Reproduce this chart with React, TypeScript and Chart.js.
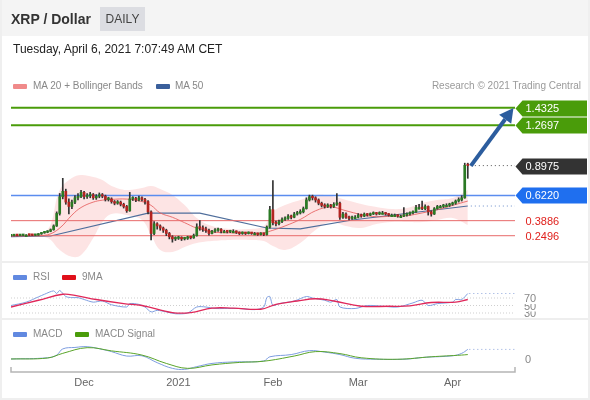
import React, { useEffect, useRef } from "react";
import { Chart, registerables } from "chart.js";
Chart.register(...registerables);

const FONT = '"Liberation Sans", Arial, Helvetica, sans-serif';

// ---- candles: day index 0 = 7 Nov 2020 ... 150 = 6 Apr 2021 ----
const opens = [
  0.249, 0.250, 0.252, 0.251, 0.252, 0.256, 0.256, 0.255, 0.253, 0.255,
  0.266, 0.276, 0.281, 0.290, 0.305, 0.340, 0.455, 0.610, 0.660, 0.560,
  0.520, 0.560, 0.600, 0.610, 0.650, 0.610, 0.620, 0.630, 0.600, 0.615,
  0.625, 0.615, 0.585, 0.590, 0.565, 0.550, 0.560, 0.540, 0.520, 0.480,
  0.590, 0.595, 0.580, 0.600, 0.585, 0.565, 0.470, 0.270, 0.360, 0.340,
  0.320, 0.300, 0.270, 0.240, 0.220, 0.225, 0.235, 0.220, 0.225, 0.235,
  0.230, 0.250, 0.330, 0.320, 0.310, 0.300, 0.270, 0.290, 0.300, 0.310,
  0.290, 0.290, 0.285, 0.290, 0.290, 0.280, 0.270, 0.275, 0.270, 0.275,
  0.270, 0.270, 0.260, 0.270, 0.260, 0.330, 0.490, 0.370, 0.360, 0.380,
  0.400, 0.410, 0.430, 0.420, 0.450, 0.460, 0.470, 0.500, 0.580, 0.610,
  0.600, 0.580, 0.550, 0.530, 0.520, 0.530, 0.520, 0.540, 0.550, 0.420,
  0.450, 0.420, 0.410, 0.420, 0.420, 0.440, 0.430, 0.450, 0.440, 0.450,
  0.460, 0.450, 0.460, 0.460, 0.450, 0.440, 0.440, 0.440, 0.430, 0.430,
  0.440, 0.450, 0.460, 0.470, 0.510, 0.510, 0.500, 0.520, 0.470, 0.450,
  0.500, 0.520, 0.520, 0.530, 0.530, 0.540, 0.550, 0.570, 0.580, 0.600,
  0.900,
];
const highs = [
  0.253, 0.255, 0.254, 0.255, 0.259, 0.260, 0.259, 0.258, 0.258, 0.270,
  0.280, 0.287, 0.296, 0.312, 0.350, 0.470, 0.640, 0.780, 0.680, 0.590,
  0.580, 0.620, 0.640, 0.670, 0.660, 0.640, 0.650, 0.640, 0.630, 0.645,
  0.640, 0.625, 0.605, 0.600, 0.575, 0.575, 0.570, 0.550, 0.530, 0.650,
  0.610, 0.605, 0.615, 0.610, 0.595, 0.575, 0.480, 0.380, 0.370, 0.350,
  0.330, 0.310, 0.280, 0.250, 0.240, 0.245, 0.240, 0.235, 0.245, 0.245,
  0.265, 0.360, 0.390, 0.340, 0.330, 0.310, 0.300, 0.315, 0.320, 0.315,
  0.300, 0.295, 0.300, 0.305, 0.295, 0.285, 0.285, 0.280, 0.285, 0.280,
  0.280, 0.275, 0.278, 0.275, 0.340, 0.520, 0.760, 0.385, 0.395, 0.415,
  0.425, 0.445, 0.440, 0.465, 0.475, 0.490, 0.515, 0.600, 0.625, 0.625,
  0.610, 0.590, 0.560, 0.545, 0.545, 0.540, 0.555, 0.640, 0.560, 0.465,
  0.460, 0.430, 0.430, 0.435, 0.455, 0.450, 0.460, 0.455, 0.460, 0.470,
  0.465, 0.470, 0.475, 0.465, 0.455, 0.450, 0.450, 0.445, 0.440, 0.510,
  0.460, 0.470, 0.480, 0.530, 0.540, 0.570, 0.535, 0.525, 0.480, 0.510,
  0.530, 0.530, 0.540, 0.545, 0.550, 0.560, 0.580, 0.600, 0.620, 0.920,
  0.920,
];
const lows = [
  0.246, 0.248, 0.248, 0.249, 0.250, 0.253, 0.252, 0.250, 0.251, 0.253,
  0.262, 0.272, 0.277, 0.286, 0.300, 0.335, 0.440, 0.590, 0.540, 0.450,
  0.500, 0.545, 0.580, 0.600, 0.590, 0.595, 0.600, 0.585, 0.585, 0.600,
  0.600, 0.570, 0.570, 0.550, 0.535, 0.540, 0.525, 0.505, 0.465, 0.475,
  0.575, 0.565, 0.570, 0.570, 0.540, 0.450, 0.210, 0.260, 0.310, 0.300,
  0.280, 0.250, 0.220, 0.190, 0.205, 0.215, 0.205, 0.210, 0.215, 0.220,
  0.225, 0.245, 0.300, 0.290, 0.280, 0.255, 0.265, 0.280, 0.290, 0.275,
  0.280, 0.275, 0.278, 0.280, 0.270, 0.260, 0.262, 0.260, 0.265, 0.262,
  0.260, 0.252, 0.255, 0.250, 0.255, 0.320, 0.350, 0.340, 0.350, 0.370,
  0.390, 0.400, 0.405, 0.415, 0.440, 0.450, 0.460, 0.495, 0.570, 0.580,
  0.560, 0.535, 0.515, 0.505, 0.510, 0.505, 0.510, 0.530, 0.400, 0.410,
  0.410, 0.395, 0.400, 0.410, 0.415, 0.420, 0.425, 0.430, 0.435, 0.445,
  0.440, 0.445, 0.450, 0.440, 0.430, 0.430, 0.430, 0.420, 0.420, 0.425,
  0.430, 0.440, 0.450, 0.465, 0.495, 0.490, 0.490, 0.440, 0.430, 0.445,
  0.495, 0.510, 0.510, 0.520, 0.520, 0.530, 0.540, 0.560, 0.570, 0.595,
  0.780,
];
const closes = [
  0.250, 0.252, 0.251, 0.252, 0.256, 0.256, 0.255, 0.253, 0.255, 0.266,
  0.276, 0.281, 0.290, 0.305, 0.340, 0.455, 0.610, 0.660, 0.560, 0.520,
  0.560, 0.600, 0.610, 0.650, 0.610, 0.620, 0.630, 0.600, 0.615, 0.625,
  0.615, 0.585, 0.590, 0.565, 0.550, 0.560, 0.540, 0.520, 0.480, 0.590,
  0.595, 0.580, 0.600, 0.585, 0.565, 0.470, 0.270, 0.360, 0.340, 0.320,
  0.300, 0.270, 0.240, 0.220, 0.225, 0.235, 0.220, 0.225, 0.235, 0.230,
  0.250, 0.330, 0.320, 0.310, 0.300, 0.270, 0.290, 0.300, 0.310, 0.290,
  0.290, 0.285, 0.290, 0.290, 0.280, 0.270, 0.275, 0.270, 0.275, 0.270,
  0.270, 0.260, 0.270, 0.260, 0.330, 0.490, 0.370, 0.360, 0.380, 0.400,
  0.410, 0.430, 0.420, 0.450, 0.460, 0.470, 0.500, 0.580, 0.610, 0.600,
  0.580, 0.550, 0.530, 0.520, 0.530, 0.520, 0.540, 0.550, 0.420, 0.450,
  0.420, 0.410, 0.420, 0.420, 0.440, 0.430, 0.450, 0.440, 0.450, 0.460,
  0.450, 0.460, 0.460, 0.450, 0.440, 0.440, 0.440, 0.430, 0.430, 0.440,
  0.450, 0.460, 0.470, 0.510, 0.510, 0.500, 0.520, 0.470, 0.450, 0.500,
  0.520, 0.520, 0.530, 0.530, 0.540, 0.550, 0.570, 0.580, 0.600, 0.900,
  0.8975,
];

// ---- MA 20 + Bollinger bands ----
const bandDays = [0, 6, 12, 16, 20, 23, 27, 30, 33, 38, 43, 46, 49, 53, 57, 61, 66, 72, 78, 83, 86, 90, 95, 100, 105, 110, 115, 120, 125, 130, 135, 140, 145, 150];
const ma20 = [0.247, 0.25, 0.258, 0.32, 0.44, 0.51, 0.56, 0.578, 0.585, 0.588, 0.565, 0.53, 0.46, 0.42, 0.37, 0.32, 0.285, 0.276, 0.274, 0.278, 0.3, 0.34, 0.4, 0.48, 0.515, 0.48, 0.445, 0.425, 0.43, 0.435, 0.46, 0.49, 0.53, 0.57];
const bandUpper = [0.262, 0.262, 0.302, 0.672, 0.783, 0.811, 0.792, 0.765, 0.71, 0.672, 0.69, 0.71, 0.681, 0.626, 0.533, 0.413, 0.339, 0.311, 0.311, 0.339, 0.469, 0.533, 0.58, 0.626, 0.617, 0.58, 0.543, 0.515, 0.496, 0.506, 0.552, 0.58, 0.598, 0.672];
const bandLower = [0.238, 0.24, 0.228, 0.118, 0.054, 0.071, 0.228, 0.376, 0.45, 0.44, 0.395, 0.256, 0.118, 0.1, 0.145, 0.182, 0.2, 0.21, 0.21, 0.2, 0.154, 0.118, 0.182, 0.302, 0.376, 0.339, 0.321, 0.358, 0.376, 0.376, 0.376, 0.395, 0.413, 0.349];

// ---- MA 50 ----
const ma50Days = [0, 13, 45, 62, 84, 95, 112, 150];
const ma50 = [0.242, 0.247, 0.459, 0.459, 0.321, 0.312, 0.395, 0.524];

// ---- levels ----
const levelValues = [1.4325, 1.2697, 0.8975, 0.622, 0.3886, 0.2496];
const levelKinds = ["res", "res", "last", "piv", "sup", "sup"];
const arrowFrom = [151, 0.895];
const arrowTo = [165, 1.43];

// ---- RSI ----
const rsiDays = [0, 5, 9, 11, 14, 15, 16, 18, 20, 22, 24, 27, 30, 33, 38, 39, 42, 44, 46, 48, 51, 54, 58, 61, 64, 67, 70, 75, 80, 83, 84, 85, 86, 88, 93, 97, 99, 103, 105, 107, 108, 113, 117, 122, 127, 132, 135, 137, 140, 145, 146, 148, 150];
const rsi = [50, 59, 73, 80, 89, 82, 90, 74, 71, 71, 66, 59, 62, 52, 46, 55, 53, 46, 33, 37, 33, 28, 30, 46, 46, 42, 42, 42, 39, 46, 71, 74, 50, 55, 62, 74, 70, 64, 59, 66, 46, 42, 50, 48, 46, 57, 64, 50, 55, 59, 66, 66, 82];
const rsiMaDays = [0, 9, 17, 21, 28, 37, 43, 53, 59, 66, 73, 82, 87, 94, 100, 106, 115, 124, 131, 138, 146, 150];
const rsiMa = [46, 64, 80, 77, 66, 55, 50, 31, 31, 43, 43, 40, 53, 62, 68, 62, 48, 48, 49, 58, 59, 66];
const rsiLevels = [70, 50, 30];

// ---- MACD ----
const macdDays = [0, 12, 15, 17, 21, 25, 30, 33, 38, 43, 48, 53, 57, 61, 66, 73, 83, 85, 92, 98, 103, 108, 113, 120, 129, 136, 145, 148, 150];
const macd = [0, 0.005, 0.016, 0.041, 0.047, 0.05, 0.039, 0.03, 0.012, 0.013, -0.015, -0.038, -0.042, -0.031, -0.018, -0.012, -0.008, 0.009, 0.018, 0.034, 0.028, 0.018, 0.003, -0.001, -0.001, 0.007, 0.013, 0.023, 0.039];
const signalDays = [0, 12, 17, 25, 33, 43, 51, 58, 66, 75, 83, 93, 100, 108, 115, 127, 138, 148, 150];
const signal = [0, 0.004, 0.023, 0.046, 0.033, 0.016, -0.018, -0.038, -0.024, -0.014, -0.009, 0.012, 0.03, 0.022, 0.005, -0.001, 0.009, 0.016, 0.018];

// ---- x ticks ----
const tickDays = [24, 55, 86, 114, 145];
const tickLabels = ["Dec", "2021", "Feb", "Mar", "Apr"];

const X_MIN = 0;
const X_MAX = 165.5;

const pts = (xs: number[], ys: number[]) => xs.map((x, i) => ({ x, y: ys[i] }));
const hline = (v: number, from: number) => [{ x: from, y: v }, { x: X_MAX, y: v }];

const GREEN = "#4a9c0a";
const BLUE = "#1f6fef";
const RED_TXT = "#e0211d";

export default function App() {
  const ref = useRef<HTMLCanvasElement>(null);

  useEffect(() => {
    const canvas = ref.current;
    if (!canvas) return;
    const last = closes.length - 1;

    const lineBase = { type: "line" as const, pointRadius: 0, borderWidth: 1, fill: false };

    const levelColor = (k: string) =>
      k === "res" ? GREEN : k === "piv" ? "#5b8def" : k === "sup" ? "#e86a6a" : "#555";

    const levelSets: any[] = levelValues.map((v, i) => {
      const k = levelKinds[i];
      if (k === "last") {
        return { ...lineBase, yAxisID: "y", data: hline(v, last + 1), borderColor: "#555", borderDash: [1, 3], order: 5 };
      }
      return {
        ...lineBase,
        yAxisID: "y",
        data: hline(v, X_MIN),
        borderColor: levelColor(k),
        borderWidth: k === "res" ? 2 : k === "piv" ? 1.5 : 1,
        order: 5,
      };
    });

    const overlay = {
      id: "overlay",
      afterDatasetsDraw(chart: any) {
        const { ctx, chartArea, scales } = chart;
        const xs = scales.x, ys = scales.y, rs = scales.yRsi, ms = scales.yMacd;
        ctx.save();
        // arrow
        const x1 = xs.getPixelForValue(arrowFrom[0]), y1 = ys.getPixelForValue(arrowFrom[1]);
        const x2 = xs.getPixelForValue(arrowTo[0]), y2 = ys.getPixelForValue(arrowTo[1]);
        const ang = Math.atan2(y2 - y1, x2 - x1);
        const hl = 14, hw = 7.5;
        const bx = x2 - hl * Math.cos(ang), by = y2 - hl * Math.sin(ang);
        ctx.strokeStyle = "#2c5d9e";
        ctx.fillStyle = "#2c5d9e";
        ctx.lineWidth = 4;
        ctx.beginPath();
        ctx.moveTo(x1, y1);
        ctx.lineTo(bx, by);
        ctx.stroke();
        ctx.beginPath();
        ctx.moveTo(x2, y2);
        ctx.lineTo(bx + hw * Math.sin(ang), by - hw * Math.cos(ang));
        ctx.lineTo(bx - hw * Math.sin(ang), by + hw * Math.cos(ang));
        ctx.closePath();
        ctx.fill();

        // price tags
        const left = chartArea.right + 0.5;
        ctx.font = `11px ${FONT}`;
        ctx.textBaseline = "middle";
        ctx.textAlign = "left";
        levelValues.forEach((v, i) => {
          const k = levelKinds[i];
          const yc = Math.round(ys.getPixelForValue(v)) + 0.5;
          const label = v.toFixed(4);
          if (k === "sup") {
            ctx.fillStyle = RED_TXT;
            ctx.fillText(label, left + 10, yc);
            return;
          }
          ctx.fillStyle = k === "res" ? GREEN : k === "piv" ? BLUE : "#333";
          ctx.beginPath();
          ctx.moveTo(left, yc);
          ctx.lineTo(left + 7, yc - 8);
          ctx.lineTo(587, yc - 8);
          ctx.lineTo(587, yc + 8);
          ctx.lineTo(left + 7, yc + 8);
          ctx.closePath();
          ctx.fill();
          ctx.fillStyle = "#fff";
          ctx.fillText(label, left + 10, yc);
        });

        // RSI level labels (drawn bottom-up, each on a white box)
        ctx.font = `11px ${FONT}`;
        ctx.save();
        ctx.beginPath();
        ctx.rect(517, 285, 70, 33);
        ctx.clip();
        [...rsiLevels].reverse().forEach((lv) => {
          const yc = rs.getPixelForValue(lv);
          ctx.fillStyle = "#fff";
          ctx.fillRect(518, yc - 6, 30, 12);
          ctx.fillStyle = "#888";
          ctx.fillText(String(lv), 524, yc + 1);
        });
        ctx.restore();

        // MACD zero label
        ctx.fillStyle = "#888";
        ctx.fillText("0", 525, ms.getPixelForValue(0) + 1);

        // x axis
        const ay = chartArea.bottom;
        ctx.strokeStyle = "#b5b5b5";
        ctx.lineWidth = 1.5;
        ctx.beginPath();
        ctx.moveTo(chartArea.left, ay - 5);
        ctx.lineTo(chartArea.left, ay);
        ctx.lineTo(chartArea.right, ay);
        ctx.lineTo(chartArea.right, ay - 5);
        ctx.stroke();
        ctx.fillStyle = "#666";
        ctx.font = `11px ${FONT}`;
        ctx.textAlign = "center";
        tickDays.forEach((d, i) => {
          ctx.fillText(tickLabels[i], xs.getPixelForValue(d), ay + 11);
        });
        ctx.restore();
      },
    };

    const chart = new Chart(canvas, {
      type: "bar",
      data: {
        datasets: [
          { ...lineBase, yAxisID: "y", data: pts(bandDays, bandUpper), borderWidth: 0, tension: 0.4, order: 20 },
          {
            ...lineBase,
            yAxisID: "y",
            data: pts(bandDays, bandLower),
            borderWidth: 0,
            tension: 0.4,
            fill: "-1",
            backgroundColor: "rgba(245,120,120,0.2)",
            order: 19,
          },
          { ...lineBase, yAxisID: "y", data: pts(ma50Days, ma50), borderColor: "#4f6e9c", borderWidth: 1.2, order: 9 },
          { ...lineBase, yAxisID: "y", data: pts(bandDays, ma20), borderColor: "rgba(230,95,95,0.85)", tension: 0.4, order: 8 },
          { ...lineBase, yAxisID: "y", data: hline(ma50[ma50.length - 1], last + 1), borderColor: "#6d8fc9", borderDash: [1, 3], order: 5 },
          ...levelSets,
          {
            type: "bar",
            yAxisID: "y",
            data: closes.map((_, i) => ({ x: i, y: [lows[i], highs[i]] })),
            backgroundColor: "#333",
            barThickness: 1,
            grouped: false,
            order: 1,
          },
          {
            type: "bar",
            yAxisID: "y",
            data: closes.map((c, i) => ({ x: i, y: [opens[i], c] })),
            backgroundColor: closes.map((c, i) => (c >= opens[i] ? "#2a7a24" : "#b32420")),
            borderWidth: 0,
            barThickness: 2,
            minBarLength: 1.5,
            grouped: false,
            order: 0,
          },
          // RSI panel
          ...rsiLevels.map((lv) => ({
            ...lineBase,
            yAxisID: "yRsi",
            data: hline(lv, X_MIN),
            borderColor: "#cfcfcf",
            borderDash: [1, 2],
            order: 6,
          })),
          { ...lineBase, yAxisID: "yRsi", data: pts(rsiDays, rsi), borderColor: "#7f9fe0", tension: 0.3, order: 3 },
          { ...lineBase, yAxisID: "yRsi", data: pts(rsiMaDays, rsiMa), borderColor: "#e0285a", borderWidth: 1.3, tension: 0.4, order: 2 },
          { ...lineBase, yAxisID: "yRsi", data: hline(rsi[rsi.length - 1], last + 0.5), borderColor: "#8ea6dc", borderDash: [1, 3], order: 3 },
          // MACD panel
          { ...lineBase, yAxisID: "yMacd", data: pts(macdDays, macd), borderColor: "#7d9de0", tension: 0.4, order: 3 },
          { ...lineBase, yAxisID: "yMacd", data: pts(signalDays, signal), borderColor: "#5aa52a", tension: 0.4, order: 2 },
          { ...lineBase, yAxisID: "yMacd", data: hline(macd[macd.length - 1], last + 0.5), borderColor: "#8ea6dc", borderDash: [1, 3], order: 3 },
        ] as any,
      },
      options: {
        responsive: false,
        animation: false,
        devicePixelRatio: 1,
        layout: { padding: { left: 11, right: 75, top: 95, bottom: 28 } },
        plugins: { legend: { display: false }, tooltip: { enabled: false } },
        scales: {
          x: { type: "linear", axis: "x", min: X_MIN, max: X_MAX, display: false, offset: false },
          y: { type: "linear", axis: "y", min: -1.01, max: 1.55, display: false },
          yRsi: { type: "linear", axis: "y", min: -127.33, max: 611.33, display: false },
          yMacd: { type: "linear", axis: "y", min: -0.052846, max: 1.07317, display: false },
        },
      } as any,
      plugins: [overlay],
    });
    return () => chart.destroy();
  }, []);

  const txt = (left: number, cy: number, size: number, color: string, s: string, extra: any = {}) => (
    <div
      style={{
        position: "absolute",
        left,
        top: cy - Math.round(size * 0.6),
        fontSize: size,
        lineHeight: `${Math.round(size * 1.2)}px`,
        color,
        whiteSpace: "nowrap",
        ...extra,
      }}
    >
      {s}
    </div>
  );
  const swatch = (left: number, cy: number, color: string) => (
    <div style={{ position: "absolute", left, top: cy - 2.5, width: 14, height: 5, borderRadius: 1, background: color }} />
  );

  return (
    <div
      style={{
        position: "fixed",
        left: 0,
        top: 0,
        width: 590,
        height: 400,
        background: "#fff",
        fontFamily: FONT,
        overflow: "hidden",
      }}
    >
      <canvas ref={ref} width={590} height={400} style={{ position: "absolute", left: 0, top: 0, width: 590, height: 400 }} />
      <div style={{ position: "absolute", left: 0, top: 0, width: 590, height: 36, background: "#f4f4f4" }} />
      {txt(11, 19, 14, "#333", "XRP / Dollar", { fontWeight: "bold" })}
      <div
        style={{
          position: "absolute",
          left: 100,
          top: 7,
          width: 45,
          height: 24,
          lineHeight: "24px",
          background: "#dcdde2",
          color: "#444",
          fontSize: 12,
          textAlign: "center",
        }}
      >
        DAILY
      </div>
      {txt(13, 49, 12, "#222", "Tuesday, April 6, 2021 7:07:49 AM CET")}
      {swatch(13, 86, "#f08a8a")}
      {txt(33, 86, 10, "#888", "MA 20 + Bollinger Bands")}
      {swatch(156, 86, "#3a5f9b")}
      {txt(175, 86, 10, "#888", "MA 50")}
      {txt(0, 86, 10, "#9a9a9a", "Research © 2021 Trading Central", { left: undefined, right: 9, textAlign: "right" })}
      <div style={{ position: "absolute", left: 0, top: 261, width: 590, height: 2, background: "#eeeeee" }} />
      {swatch(13, 277, "#6189e0")}
      {txt(33, 277, 10, "#888", "RSI")}
      {swatch(62, 277, "#e0101a")}
      {txt(82, 277, 10, "#888", "9MA")}
      <div style={{ position: "absolute", left: 0, top: 318, width: 590, height: 2, background: "#eeeeee" }} />
      {swatch(13, 334, "#6189e0")}
      {txt(33, 334, 10, "#888", "MACD")}
      {swatch(75, 334, "#4a9c0a")}
      {txt(95, 334, 10, "#888", "MACD Signal")}
      <div style={{ position: "absolute", left: 0, top: 0, width: 590, height: 400, boxSizing: "border-box", border: "2px solid #efefef", borderTop: "none", pointerEvents: "none" }} />
    </div>
  );
}
